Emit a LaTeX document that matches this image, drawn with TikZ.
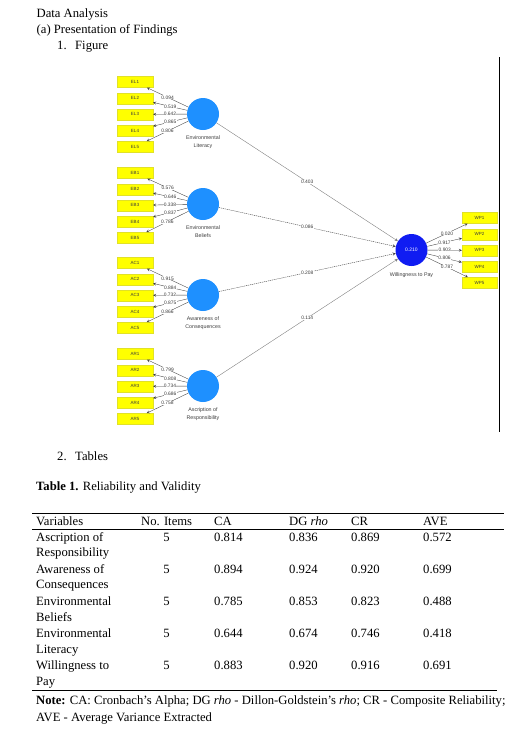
\documentclass[tikz,border=0pt]{standalone}
\usepackage{fontspec}
\setmainfont{Liberation Serif}
\newfontfamily\plsfont{Liberation Sans}
\usepackage{tikz}
\usetikzlibrary{positioning}

\definecolor{plsblue}{RGB}{30,144,255}
\definecolor{wpblue}{RGB}{16,28,242}
\definecolor{indyellow}{RGB}{255,255,0}
\definecolor{indedge}{RGB}{225,225,40}
\definecolor{plsgray}{RGB}{60,60,60}

\begin{document}
\begin{tikzpicture}[x=1pt, y=-1pt, >=stealth,
  txt/.style={anchor=base west, inner sep=0, font=\fontsize{12.65}{15}\selectfont},
  ind/.style={rectangle, fill=indyellow, draw=indedge, line width=0.2pt, minimum width=36pt,
    minimum height=11pt, inner sep=0, font=\plsfont\fontsize{4.5}{4.5}\selectfont, text=plsgray},
  lat/.style={circle, fill=plsblue, minimum size=32pt, inner sep=0},
  latcap/.style={align=center, inner sep=0, font=\plsfont\fontsize{5.3}{7.8}\selectfont, text=plsgray},
  num/.style={fill=white, inner sep=0.3pt, font=\plsfont\fontsize{4.9}{4.9}\selectfont, text=plsgray},
  ld/.style={->, draw=plsgray, line width=0.35pt},
  pth/.style={->, draw=gray, line width=0.4pt},
  pthd/.style={->, draw=plsgray, line width=0.4pt, dash pattern=on 1.2pt off 0.8pt},
  rule/.style={line width=0.8pt}
]
\useasboundingbox (0,0) rectangle (532,739);

% heading
\node[txt] (head) at (36.5,17.5) {Data Analysis};
\node[txt] (sub) at (36.5,33.5) {(a) Presentation of Findings};
\node[txt] (fignum) at (57,49.5) {1.};
\node[txt] (figttl) at (75,49.5) {Figure};

% latent variables
\node[lat] (el) at (203,114) {};
\node[lat] (eb) at (203,204) {};
\node[lat] (ac) at (203,295) {};
\node[lat] (ar) at (203,386) {};
\node[lat, fill=wpblue, text=white, font=\plsfont\fontsize{5}{5}\selectfont] (wp) at (411.5,250) {0.210};

\node[latcap, below=5.5pt of el] (elcap) {Environmental\\Literacy};
\node[latcap, below=5.5pt of eb] (ebcap) {Environmental\\Beliefs};
\node[latcap, below=5.5pt of ac] (accap) {Awareness of\\Consequences};
\node[latcap, below=5.5pt of ar] (arcap) {Ascription of\\Responsibility};
\node[latcap, below=6pt of wp] (wpcap) {Willingness to Pay};

% indicators
\node[ind] (el1) at (135,82) {EL1};
\node[ind, below=5pt of el1] (el2) {EL2};
\node[ind, below=5pt of el2] (el3) {EL3};
\node[ind, below=5pt of el3] (el4) {EL4};
\node[ind, below=5pt of el4] (el5) {EL5};

\node[ind] (eb1) at (135,173) {EB1};
\node[ind, below=5pt of eb1] (eb2) {EB2};
\node[ind, below=5pt of eb2] (eb3) {EB3};
\node[ind, below=5pt of eb3] (eb4) {EB4};
\node[ind, below=5pt of eb4] (eb5) {EB5};

\node[ind] (ac1) at (135,263) {AC1};
\node[ind, below=5pt of ac1] (ac2) {AC2};
\node[ind, below=5pt of ac2] (ac3) {AC3};
\node[ind, below=5pt of ac3] (ac4) {AC4};
\node[ind, below=5pt of ac4] (ac5) {AC5};

\node[ind] (ar1) at (135,354) {AR1};
\node[ind, below=5pt of ar1] (ar2) {AR2};
\node[ind, below=5pt of ar2] (ar3) {AR3};
\node[ind, below=5pt of ar3] (ar4) {AR4};
\node[ind, below=5pt of ar4] (ar5) {AR5};

\node[ind, minimum width=35pt] (wp1) at (479.5,218) {WP1};
\node[ind, minimum width=35pt, below=5pt of wp1] (wp2) {WP2};
\node[ind, minimum width=35pt, below=5pt of wp2] (wp3) {WP3};
\node[ind, minimum width=35pt, below=5pt of wp3] (wp4) {WP4};
\node[ind, minimum width=35pt, below=5pt of wp4] (wp5) {WP5};

% outer loadings
\draw[ld] (el)--node[num]{0.094}(el1);
\draw[ld] (el)--node[num]{0.519}(el2);
\draw[ld] (el)--node[num]{0.642}(el3);
\draw[ld] (el)--node[num]{0.865}(el4);
\draw[ld] (el)--node[num]{0.806}(el5);

\draw[ld] (eb)--node[num]{0.576}(eb1);
\draw[ld] (eb)--node[num]{0.646}(eb2);
\draw[ld] (eb)--node[num]{0.338}(eb3);
\draw[ld] (eb)--node[num]{0.837}(eb4);
\draw[ld] (eb)--node[num]{0.786}(eb5);

\draw[ld] (ac)--node[num]{0.915}(ac1);
\draw[ld] (ac)--node[num]{0.884}(ac2);
\draw[ld] (ac)--node[num]{0.732}(ac3);
\draw[ld] (ac)--node[num]{0.875}(ac4);
\draw[ld] (ac)--node[num]{0.866}(ac5);

\draw[ld] (ar)--node[num]{0.799}(ar1);
\draw[ld] (ar)--node[num]{0.808}(ar2);
\draw[ld] (ar)--node[num]{0.734}(ar3);
\draw[ld] (ar)--node[num]{0.686}(ar4);
\draw[ld] (ar)--node[num]{0.758}(ar5);

\draw[ld] (wp)--node[num]{0.020}(wp1);
\draw[ld] (wp)--node[num]{0.917}(wp2);
\draw[ld] (wp)--node[num]{0.903}(wp3);
\draw[ld] (wp)--node[num]{0.806}(wp4);
\draw[ld] (wp)--node[num]{0.787}(wp5);

% path coefficients
\draw[pth]  (el)--node[num]{0.403}(wp);
\draw[pthd] (eb)--node[num]{0.086}(wp);
\draw[pthd] (ac)--node[num]{0.208}(wp);
\draw[pth]  (ar)--node[num]{0.114}(wp);

\draw[line width=0.8pt] (499,57)--(499,432);

% table
\node[txt] (tabnum) at (57,460) {2.};
\node[txt] (tabttl) at (75,460) {Tables};
\node[txt] (caption) at (36,490) {\textbf{Table 1.} Reliability and Validity};

\draw[rule] (32,513)--(504,513);
\node[txt] (hvar) at (36,525.5) {Variables};
\node[txt] (hno)  at (141,525.5) {No. Items};
\node[txt] (hca)  at (214,525.5) {CA};
\node[txt] (hdg)  at (289,525.5) {DG \textit{rho}};
\node[txt] (hcr)  at (351,525.5) {CR};
\node[txt] (have) at (423,525.5) {AVE};
\draw[rule] (32,529.5)--(504,529.5);

\node[txt] (arv)  at (36,541.5) {Ascription of};
\node[txt] (arw)  at (36,556.8) {Responsibility};
\node[txt, anchor=base] (arno) at (166.5,541.5) {5};
\node[txt] (arca) at (214,541.5) {0.814};
\node[txt] (ardg) at (289,541.5) {0.836};
\node[txt] (arcr) at (351,541.5) {0.869};
\node[txt] (arav) at (423,541.5) {0.572};

\node[txt] (acv)  at (36,573.6) {Awareness of};
\node[txt] (acw)  at (36,588.9) {Consequences};
\node[txt, anchor=base] (acno) at (166.5,573.6) {5};
\node[txt] (acca) at (214,573.6) {0.894};
\node[txt] (acdg) at (289,573.6) {0.924};
\node[txt] (accr) at (351,573.6) {0.920};
\node[txt] (acav) at (423,573.6) {0.699};

\node[txt] (ebv)  at (36,605.7) {Environmental};
\node[txt] (ebw)  at (36,621) {Beliefs};
\node[txt, anchor=base] (ebno) at (166.5,605.7) {5};
\node[txt] (ebca) at (214,605.7) {0.785};
\node[txt] (ebdg) at (289,605.7) {0.853};
\node[txt] (ebcr) at (351,605.7) {0.823};
\node[txt] (ebav) at (423,605.7) {0.488};

\node[txt] (elv)  at (36,637.8) {Environmental};
\node[txt] (elw)  at (36,653.1) {Literacy};
\node[txt, anchor=base] (elno) at (166.5,637.8) {5};
\node[txt] (elca) at (214,637.8) {0.644};
\node[txt] (eldg) at (289,637.8) {0.674};
\node[txt] (elcr) at (351,637.8) {0.746};
\node[txt] (elav) at (423,637.8) {0.418};

\node[txt] (wpv)  at (36,669.9) {Willingness to};
\node[txt] (wpw)  at (36,685.2) {Pay};
\node[txt, anchor=base] (wpno) at (166.5,669.9) {5};
\node[txt] (wpca) at (214,669.9) {0.883};
\node[txt] (wpdg) at (289,669.9) {0.920};
\node[txt] (wpcr) at (351,669.9) {0.916};
\node[txt] (wpav) at (423,669.9) {0.691};
\draw[rule] (32,690)--(497,690);

\node[txt] (note1) at (36,704.5) {\textbf{Note:} CA: Cronbach’s Alpha; DG \textit{rho} - Dillon-Goldstein’s \textit{rho}; CR - Composite Reliability;};
\node[txt] (note2) at (36,721.5) {AVE - Average Variance Extracted};
\end{tikzpicture}
\end{document}
